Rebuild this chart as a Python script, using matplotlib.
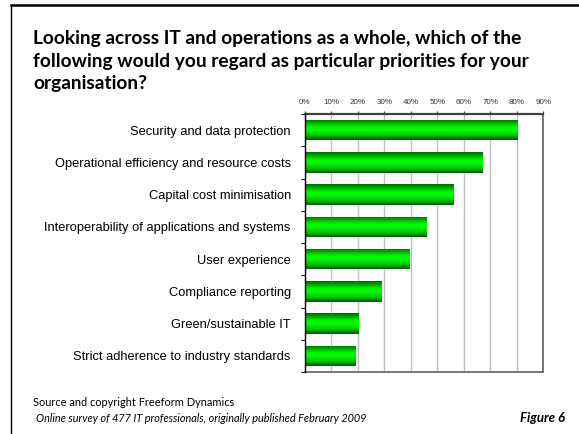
import numpy as np
import matplotlib
matplotlib.use("Agg")
import matplotlib.pyplot as plt
from matplotlib.lines import Line2D
from matplotlib.colors import LinearSegmentedColormap

categories = [
    "Security and data protection",
    "Operational efficiency and resource costs",
    "Capital cost minimisation",
    "Interoperability of applications and systems",
    "User experience",
    "Compliance reporting",
    "Green/sustainable IT",
    "Strict adherence to industry standards",
]
values = [80, 67, 56, 46, 39.5, 29, 20, 19]
ticks = [0, 10, 20, 30, 40, 50, 60, 70, 80, 90]
tick_labels = [f"{t}%" for t in ticks]

W, H = 579, 434
fig = plt.figure(figsize=(W / 100, H / 100), dpi=100)
fig.patch.set_facecolor("white")

# slide frame: heavy line on top, thin line down the left
fig.add_artist(Line2D([11 / W, 1.0], [1 - 5 / H, 1 - 5 / H], color="black", lw=1.8))
fig.add_artist(Line2D([11 / W, 11 / W], [0, 1 - 5 / H], color="black", lw=1.0))

title = ("Looking across IT and operations as a whole, which of the\n"
         "following would you regard as particular priorities for your\n"
         "organisation?")
fig.text(33 / W, 1 - 30 / H, title, fontsize=13.8, fontweight="bold",
         family="Lato", va="top", ha="left", linespacing=1.4)

fig.text(33 / W, 1 - 403 / H, "Source and copyright Freeform Dynamics",
         fontsize=7.9, family="Lato", va="center", ha="left")
fig.text(36 / W, 1 - 418 / H,
         "Online survey of 477 IT professionals, originally published February 2009",
         fontsize=7.8, family="Lato", style="italic", va="center", ha="left")
fig.text(565 / W, 1 - 418 / H, "Figure 6", fontsize=9.5, family="Lato",
         fontweight="bold", style="italic", va="center", ha="right")

left, right, top, bottom = 304.7, 543.3, 114, 372
ax = fig.add_axes([left / W, 1 - bottom / H, (right - left) / W, (bottom - top) / H])

n = len(categories)
ypos = np.arange(n)
bar_h = 0.64

cmap = LinearSegmentedColormap.from_list(
    "bar", [(0.0, "#006a00"), (0.35, "#00f000"), (0.5, "#00ff00"),
            (0.75, "#00c800"), (1.0, "#006000")])
grad = np.linspace(0, 1, 64).reshape(-1, 1)

bars = ax.barh(ypos, values, height=bar_h, color="none", edgecolor="none", zorder=3)
for b in bars:
    x0, y0 = b.get_x(), b.get_y()
    w, h = b.get_width(), b.get_height()
    im = ax.imshow(grad, cmap=cmap, aspect="auto", interpolation="bilinear",
                   extent=(x0, x0 + w, y0, y0 + h), origin="lower", zorder=3)
    im.set_clip_path(b)

ax.set_xlim(0, 90)
ax.set_ylim(n - 0.5, -0.5)

ax.xaxis.tick_top()
ax.set_xticks(ticks)
ax.set_xticklabels(tick_labels, fontsize=5.8, family="Liberation Sans", color="#333333")
ax.tick_params(axis="x", direction="out", length=2.5, width=0.8, color="#404040", pad=3)
ax.grid(axis="x", color="#c0c0c0", lw=1.0, zorder=1)

ax.set_yticks(ypos)
ax.set_yticklabels(categories, fontsize=9.3, family="Liberation Sans")
ax.set_yticks(np.arange(-0.5, n, 1.0), minor=True)
ax.tick_params(axis="y", which="major", length=0, pad=10)
ax.tick_params(axis="y", which="minor", direction="out", length=3, width=0.8, color="black")

ax.spines["left"].set_color("black")
ax.spines["left"].set_linewidth(1.0)
ax.spines["left"].set_zorder(4)
ax.spines["top"].set_color("#404040")
ax.spines["top"].set_linewidth(1.6)
for s in ("right", "bottom"):
    ax.spines[s].set_color("#606060")
    ax.spines[s].set_linewidth(1.2)
ax.set_axisbelow(True)

fig.savefig("out.png", dpi=100, facecolor="white")
